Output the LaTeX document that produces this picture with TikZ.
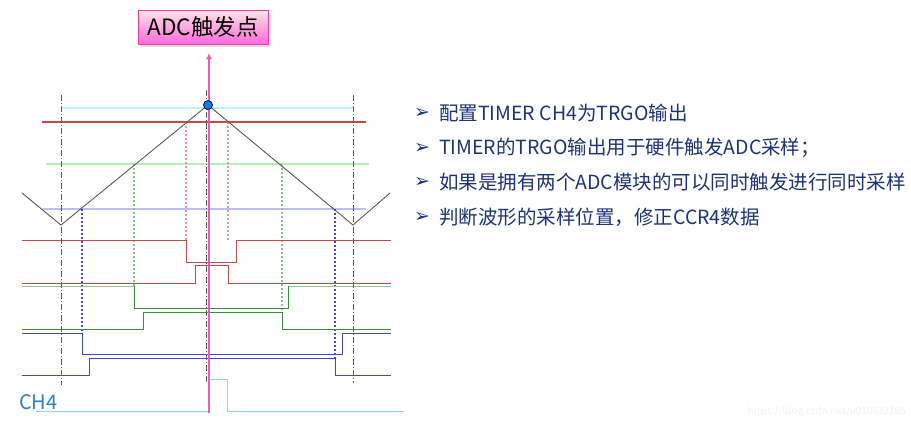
\documentclass[tikz,border=0pt]{standalone}
\usepackage{fontspec}
\setmainfont{Noto Sans CJK SC}
\newfontfamily\symfont{DejaVu Sans}
\usepackage{tikz}
\usetikzlibrary{arrows.meta,shadows}

\definecolor{wred}{RGB}{205,70,70}
\definecolor{wgreen}{RGB}{60,140,60}
\definecolor{wblue}{RGB}{70,70,205}
\definecolor{ch4line}{RGB}{150,210,240}
\definecolor{ch4text}{RGB}{40,130,200}
\definecolor{txtblue}{RGB}{30,50,120}
\definecolor{trigpink}{RGB}{240,90,180}

\begin{document}
\begin{tikzpicture}[
      x=1pt, y=-1pt,
      lvl/.style={line width=1.3pt},
      wave/.style={line width=1pt},
      hint/.style={line width=1.2pt, dash pattern=on 2pt off 2pt},
      guide/.style={line width=1pt, gray!75!black, dash pattern=on 6pt off 2pt on 1pt off 2pt},
      trig/.style={-{Latex[length=6pt,width=6pt]}, line width=1.2pt, trigpink},
      trigbox/.style={draw=magenta!70!pink, line width=1pt, top color=pink!40, bottom color=magenta!45!pink,
        minimum width=130pt, minimum height=34pt, inner sep=0pt, drop shadow={opacity=0.25},
        font=\fontsize{22.5}{25}\selectfont},
      dot/.style={circle, draw=blue!55!black, fill=cyan!65!blue, line width=0.8pt, minimum size=9pt, inner sep=0pt},
      item/.style={anchor=west, text=txtblue, font=\fontsize{19.5}{22}\selectfont, inner sep=0pt},
      bul/.style={anchor=west, text=txtblue, font=\symfont\fontsize{19}{21}\selectfont, inner sep=0pt}]
    \useasboundingbox (0,0) rectangle (911,421);
    % compare levels
    \draw[lvl, cyan!22]    (61,108) -- (353,108);
    \draw[lvl, wred]       (42,122) -- (366,122);
    \draw[lvl, green!25!white!85!gray] (46,164) -- (369,164);
    \draw[lvl, wblue!35]   (43,209) -- (366,209);
    % crossings
    \draw[hint, wred!55]   (186,122) -- (186,240);
    \draw[hint, wred!55]   (228,122) -- (228,240);
    \draw[hint, wgreen!55] (134,164) -- (134,286);
    \draw[hint, wgreen!55] (282,164) -- (282,312);
    \draw[hint, wblue]     (82,209) -- (82,333);
    \draw[hint, wblue]     (335,209) -- (335,358);
    % outputs
    \draw[wave, wred]      (22,240) -| (186,262) -| (236,240) -- (391,240);
    \draw[wave, wred]      (22,283) -| (195,265) -| (228,283) -- (391,283);
    \draw[wave, wgreen!55] (22,286) -- (134,286);
    \draw[wave, wgreen!55] (288,286) -- (391,286);
    \draw[wave, wgreen]    (134,286) |- (288,308) -- (288,286);
    \draw[wave, wgreen]    (22,329) -| (143,312) -| (282,329) -- (391,329);
    \draw[wave, wblue]     (22,333) -| (82,354) -| (342,333) -- (391,333);
    \draw[wave, wblue]     (22,375) -| (89,358) -| (335,375) -- (391,375);
    \draw[wave, ch4line]   (36,411) -| (209,379) -| (227,411) -- (404,411);
    % counter
    \draw[line width=0.9pt, gray!70!black] (22,193) -- (61,225) -- (208,105) -- (353,225) -- (390,193);
    \draw[guide] (61,95) -- (61,385);
    \draw[guide] (206,90) -- (206,382);
    \draw[guide] (353,95) -- (353,383);
    % trigger
    \node[trigbox] (adc) at (203,27) {ADC触发点};
    \coordinate (trigfoot) at (209,413);
    \coordinate (trigtip) at (209,53);
    \draw[trig] (trigfoot) -- (trigtip);
    \node[dot] (peak) at (208,105) {};
    \node[anchor=west, text=ch4text, font=\fontsize{20}{22}\selectfont, inner sep=0pt] (ch4) at (19,402) {CH4};
    % notes
    \node[bul]  (b1) at (414,113) {➢};
    \node[item] (t1) at (439,113) {配置TIMER CH4为TRGO输出};
    \node[bul]  (b2) at (414,148) {➢};
    \node[item] (t2) at (439,148) {TIMER的TRGO输出用于硬件触发ADC采样；};
    \node[bul]  (b3) at (414,182) {➢};
    \node[item] (t3) at (439,182) {如果是拥有两个ADC模块的可以同时触发进行同时采样};
    \node[bul]  (b4) at (414,217) {➢};
    \node[item] (t4) at (439,217) {判断波形的采样位置，修正CCR4数据};
    \node[anchor=east, text=gray!12, font=\fontsize{10}{12}\selectfont, inner sep=0pt] (wm) at (906,412) {https://blog.csdn.net/u010632165};
  \end{tikzpicture}
\end{document}
